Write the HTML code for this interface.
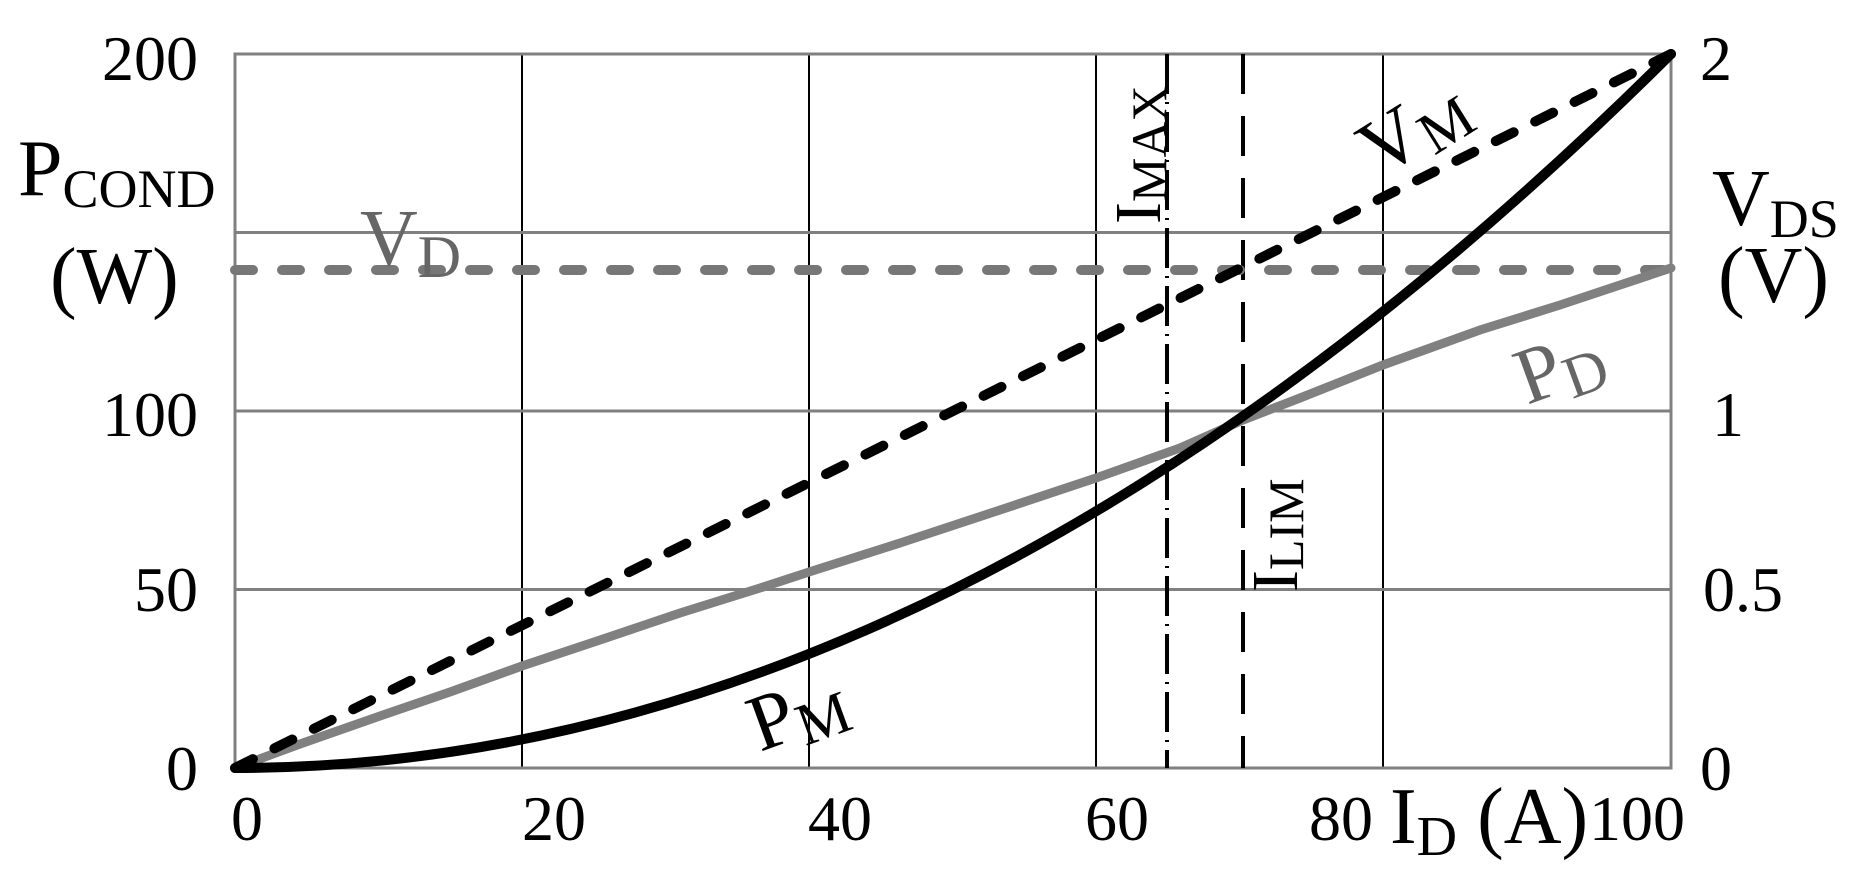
<!DOCTYPE html>
<html><head><meta charset="utf-8"><style>
html,body{margin:0;padding:0;background:#fff;}
svg{display:block;font-family:"Liberation Serif",serif;}
</style></head><body>
<svg width="1850" height="884" viewBox="0 0 1850 884">
<!-- grid -->
<g stroke="#000" stroke-width="2">
<line x1="522" y1="54" x2="522" y2="768"/>
<line x1="809" y1="54" x2="809" y2="768"/>
<line x1="1096" y1="54" x2="1096" y2="768"/>
<line x1="1383" y1="54" x2="1383" y2="768"/>
</g>
<g stroke="#808080" stroke-width="3" fill="none">
<line x1="235" y1="232.5" x2="1671" y2="232.5"/>
<line x1="235" y1="411" x2="1671" y2="411"/>
<line x1="235" y1="589.5" x2="1671" y2="589.5"/>
<rect x="235" y="54" width="1436" height="714"/>
</g>
<!-- vertical markers -->
<line x1="1167" y1="54" x2="1167" y2="768" stroke="#000" stroke-width="4" stroke-dasharray="40,8,2,8"/>
<line x1="1243" y1="54" x2="1243" y2="768" stroke="#000" stroke-width="4" stroke-dasharray="40,22"/>
<!-- VD -->
<line x1="235" y1="270" x2="1671" y2="270" stroke="#777" stroke-width="10" stroke-linecap="round" stroke-dasharray="18,29"/>
<!-- PD -->
<polyline fill="none" stroke="#808080" stroke-width="9" stroke-linecap="round" points="235,768 300,744 380,716 450,692 522,666 600,640 680,613 760,588 809,572 900,543 1000,510 1096,478 1180,448 1243,420 1300,398 1383,365 1480,330 1560,305 1671,268"/>
<!-- PM -->
<path d="M235,768 Q953,768 1671,54" fill="none" stroke="#000" stroke-width="10" stroke-linecap="round"/>
<!-- VM -->
<line x1="235" y1="768" x2="1671" y2="54" stroke="#000" stroke-width="10" stroke-linecap="round" stroke-dasharray="20,24"/>
<!-- left ticks -->
<g font-size="64" text-anchor="end" fill="#000">
<text x="198" y="80">200</text>
<text x="198" y="436">100</text>
<text x="198" y="611">50</text>
<text x="198" y="790">0</text>
</g>
<!-- right ticks -->
<g font-size="64" fill="#000">
<text x="1700" y="80">2</text>
<text x="1712" y="436">1</text>
<text x="1703" y="611">0.5</text>
<text x="1700" y="790">0</text>
</g>
<!-- bottom ticks -->
<g font-size="64" text-anchor="middle" fill="#000">
<text x="247" y="840">0</text>
<text x="554" y="840">20</text>
<text x="840" y="840">40</text>
<text x="1117" y="840">60</text>
<text x="1341" y="840">80</text>
<text x="1637" y="840">100</text>
</g>
<text x="1390" y="843" font-size="80">I<tspan font-size="56" dy="12">D</tspan><tspan dy="-12"> (A)</tspan></text>
<!-- left axis label -->
<text x="18" y="195" font-size="80">P<tspan font-size="54" dy="12">COND</tspan></text>
<text x="50" y="303" font-size="80">(W)</text>
<!-- right axis label -->
<text x="1712" y="225" font-size="80">V<tspan font-size="54" dy="12">DS</tspan></text>
<text x="1718" y="302" font-size="80">(V)</text>
<!-- series labels -->
<text x="360" y="265" font-size="80" fill="#666">V<tspan font-size="60" dy="12">D</tspan></text>
<text transform="translate(1380,178) rotate(-32)" font-size="80">V<tspan font-size="60" dy="10">M</tspan></text>
<text transform="translate(1527,405) rotate(-20)" font-size="80" fill="#666">P<tspan font-size="60" dy="10">D</tspan></text>
<text transform="translate(760,752) rotate(-20)" font-size="80">P<tspan font-size="60" dy="10">M</tspan></text>
<text transform="translate(1160,224) rotate(-90)" font-size="66">I<tspan font-size="50" dy="6">MAX</tspan></text>
<text transform="translate(1297,592) rotate(-90)" font-size="66">I<tspan font-size="50" dy="6">LIM</tspan></text>
</svg>
</body></html>
